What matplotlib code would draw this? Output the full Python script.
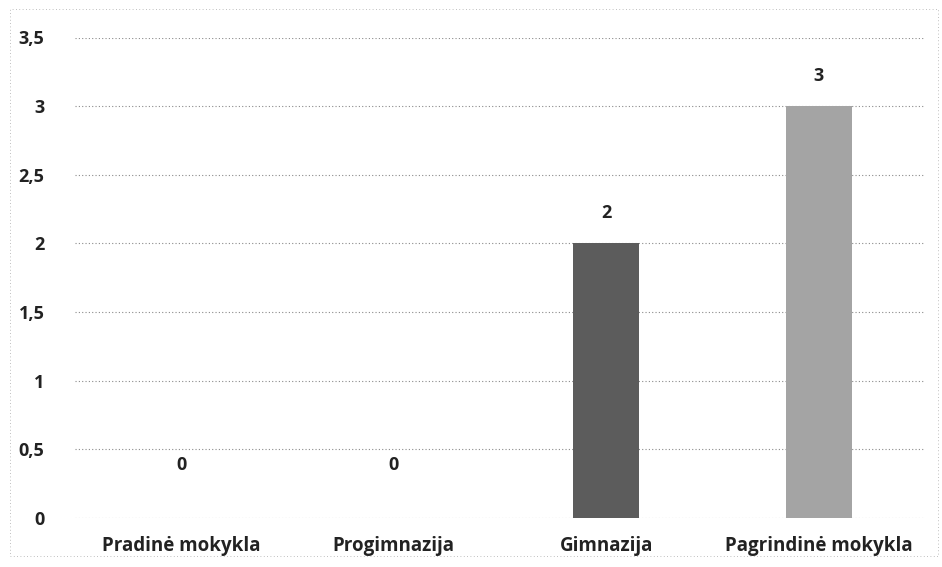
import matplotlib.pyplot as plt
from matplotlib.ticker import FuncFormatter
from matplotlib.patches import Rectangle

categories = ["Pradinė mokykla", "Progimnazija", "Gimnazija", "Pagrindinė mokykla"]
values = [0, 0, 2, 3]
bar_colors = ["#6a6a6a", "#6a6a6a", "#5c5c5c", "#a4a4a4"]
y_ticks = [0, 0.5, 1, 1.5, 2, 2.5, 3, 3.5]

plt.rcParams['font.family'] = ['Open Sans', 'DejaVu Sans']

fig = plt.figure(figsize=(9.42, 5.67), dpi=100)
ax = fig.add_axes([75 / 942, 1 - 518 / 567, 850 / 942, 480.5 / 567])

x = range(len(categories))
ax.bar(x, values, width=0.31, color=bar_colors, zorder=3)

for xi, v in zip(x, values):
    off = 38 if v == 0 else 22
    ax.annotate(f"{v}", (xi, v), xytext=(0, off), textcoords="offset points",
                ha="center", va="center", fontsize=13, fontweight="bold", color="#222222")

ax.set_xlim(-0.5, len(categories) - 0.5)
ax.set_ylim(0, 3.5)
ax.set_yticks(y_ticks)
ax.yaxis.set_major_formatter(FuncFormatter(lambda v, p: f"{v:g}".replace(".", ",")))
ax.set_xticks(list(x))
ax.set_xticklabels(categories)

ax.grid(axis="y", linestyle=(0, (1, 2)), color="#8a8a8a", linewidth=0.8, zorder=0)
for s in ax.spines.values():
    s.set_visible(False)
ax.tick_params(axis="both", length=0, colors="#222222")
ax.tick_params(axis="y", pad=22, labelsize=13)
ax.tick_params(axis="x", pad=13, labelsize=13.5)
for lab in ax.get_xticklabels() + ax.get_yticklabels():
    lab.set_fontweight("bold")

# faint dotted frame around the scanned chart
fig.patches.append(Rectangle((10 / 942, 0.02), 0.985, 0.965, transform=fig.transFigure,
                             fill=False, edgecolor="#aaaaaa", linewidth=0.6,
                             linestyle=(0, (1, 3))))

fig.savefig("out.png", dpi=100)
